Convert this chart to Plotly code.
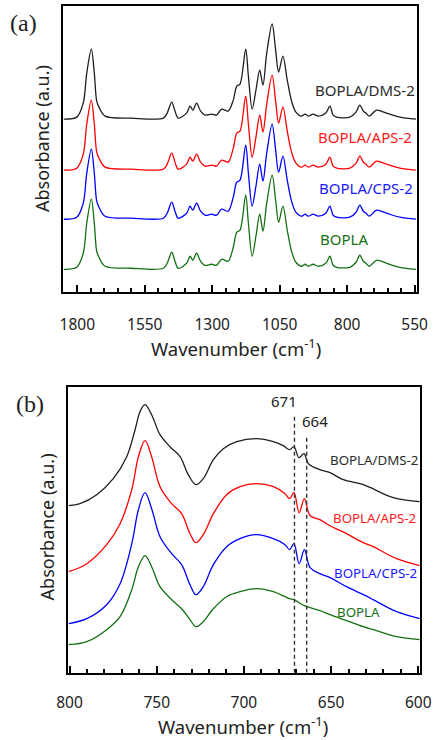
import plotly.graph_objects as go

# ---------------- Panel (a) data: full spectra (arbitrary, stacked) ----------------
wn_a = [1850, 1802, 1778, 1765, 1748, 1737, 1728, 1718, 1697, 1600, 1481, 1467, 1450, 1438, 1426,
        1395, 1382, 1372, 1358, 1343, 1327, 1302, 1284, 1265, 1241, 1222, 1209, 1197, 1176, 1166,
        1152, 1138, 1124, 1112, 1098, 1078, 1065, 1054, 1038, 1022, 1006, 990, 969, 956, 944,
        926, 907, 879, 864, 852, 839, 790, 767, 753, 740, 730, 718, 691, 654, 605, 545]

dms_a = [1.73, 1.75, 1.89, 2.19, 2.43, 2.19, 1.91, 1.84, 1.76, 1.74, 1.74, 1.79, 1.90, 1.81, 1.74,
         1.79, 1.86, 1.82, 1.89, 1.81, 1.77, 1.78, 1.77, 1.83, 1.81, 1.92, 2.06, 2.08, 2.43, 2.16,
         1.83, 2.02, 2.22, 2.07, 2.39, 2.68, 2.42, 2.20, 2.36, 2.12, 1.91, 1.80, 1.76, 1.78, 1.76,
         1.78, 1.76, 1.79, 1.86, 1.77, 1.75, 1.75, 1.80, 1.87, 1.81, 1.79, 1.76, 1.82, 1.79, 1.75, 1.73]

aps_a = [1.22, 1.24, 1.38, 1.68, 1.92, 1.68, 1.40, 1.33, 1.25, 1.23, 1.23, 1.28, 1.39, 1.30, 1.23,
         1.28, 1.35, 1.31, 1.38, 1.30, 1.26, 1.27, 1.26, 1.32, 1.30, 1.44, 1.59, 1.61, 1.96, 1.68,
         1.35, 1.55, 1.77, 1.60, 1.88, 2.17, 1.91, 1.69, 1.85, 1.61, 1.40, 1.29, 1.25, 1.27, 1.25,
         1.27, 1.25, 1.28, 1.35, 1.26, 1.24, 1.24, 1.29, 1.36, 1.30, 1.28, 1.25, 1.31, 1.28, 1.24, 1.22]

cps_a = [0.73, 0.75, 0.89, 1.19, 1.43, 1.19, 0.91, 0.84, 0.76, 0.74, 0.74, 0.79, 0.90, 0.81, 0.74,
         0.79, 0.86, 0.82, 0.89, 0.81, 0.77, 0.78, 0.77, 0.83, 0.81, 0.95, 1.10, 1.12, 1.47, 1.19,
         0.86, 1.06, 1.28, 1.11, 1.39, 1.68, 1.42, 1.20, 1.36, 1.12, 0.91, 0.80, 0.76, 0.78, 0.76,
         0.78, 0.76, 0.79, 0.86, 0.77, 0.75, 0.75, 0.80, 0.87, 0.81, 0.79, 0.76, 0.82, 0.79, 0.75, 0.73]

bopla_a = [0.23, 0.25, 0.39, 0.69, 0.93, 0.69, 0.41, 0.34, 0.26, 0.24, 0.24, 0.29, 0.40, 0.31, 0.24,
           0.29, 0.36, 0.32, 0.39, 0.31, 0.27, 0.28, 0.27, 0.33, 0.31, 0.45, 0.60, 0.62, 0.97, 0.69,
           0.36, 0.56, 0.78, 0.61, 0.89, 1.17, 0.92, 0.70, 0.86, 0.62, 0.41, 0.30, 0.26, 0.28, 0.26,
           0.28, 0.26, 0.29, 0.36, 0.27, 0.25, 0.25, 0.30, 0.37, 0.31, 0.29, 0.26, 0.32, 0.29, 0.25, 0.23]

# ---------------- Panel (b) data: 800-600 cm-1 region ----------------
wn_b_dms = [800.5, 794, 784.4, 774.9, 767.2, 762.4, 759.6, 756.7, 752.9, 748.1, 742.4, 736.6, 731.9,
            727.5, 723.3, 717.5, 711.8, 704.1, 692.7, 683.1, 677.4, 673.8, 671.3, 668.4, 665.5, 663.0,
            656.4, 650.6, 643.0, 631.5, 614.3, 599.2]
dms_b = [1.67, 1.69, 1.78, 1.94, 2.16, 2.43, 2.61, 2.68, 2.58, 2.38, 2.26, 2.16, 1.98,
         1.88, 1.94, 2.13, 2.24, 2.31, 2.34, 2.31, 2.27, 2.23, 2.26, 2.15, 2.19, 2.09,
         2.03, 2.00, 1.93, 1.88, 1.75, 1.71]

wn_b = [800.5, 790.1, 778.7, 771.0, 764.3, 760.5, 756.7, 752.9, 748.1, 741.4, 735.7, 730.9, 727.5,
        723.3, 717.5, 709.9, 702.2, 692.7, 683.1, 676.4, 673.8, 671.3, 668.3, 665.3, 662.0,
        656.4, 650.6, 641.1, 631.5, 625.8, 612.4, 599.2]
aps_b = [1.01, 1.09, 1.28, 1.49, 1.83, 2.16, 2.32, 2.16, 1.86, 1.69, 1.59, 1.39, 1.30,
         1.38, 1.59, 1.78, 1.86, 1.89, 1.86, 1.79, 1.74, 1.80, 1.60, 1.74, 1.57,
         1.53, 1.47, 1.39, 1.30, 1.26, 1.14, 1.07]
cps_b = [0.49, 0.54, 0.68, 0.89, 1.29, 1.63, 1.80, 1.64, 1.36, 1.19, 1.08, 0.88, 0.78,
         0.86, 1.08, 1.26, 1.34, 1.38, 1.34, 1.28, 1.23, 1.29, 1.09, 1.23, 1.05,
         0.99, 0.95, 0.86, 0.78, 0.73, 0.61, 0.54]
bopla_b = [0.28, 0.31, 0.43, 0.56, 0.83, 1.06, 1.17, 1.06, 0.86, 0.73, 0.64, 0.53, 0.46,
           0.51, 0.64, 0.76, 0.81, 0.84, 0.81, 0.76, 0.74, 0.73, 0.70, 0.67, 0.65,
           0.62, 0.58, 0.52, 0.46, 0.43, 0.36, 0.33]

marker_wn = [671, 664]
marker_top = [2.58, 2.38]
marker_labels = ["671", "664"]

series_names = ["BOPLA/DMS-2", "BOPLA/APS-2", "BOPLA/CPS-2", "BOPLA"]
series_colors = ["#1e1e1e", "#ff0000", "#0000ff", "#127012"]
label_colors = ["#2b2b2b", "#ff1a1a", "#1a1aff", "#157015"]

ticks_a = [1800, 1550, 1300, 1050, 800, 550]
ticks_b = [800, 750, 700, 650, 600]

W, H = 433, 740
def px(x):
    return x / W
def py(y):
    return 1 - y / H

FONT = "Noto Sans"

fig = go.Figure()

ys_a = [dms_a, aps_a, cps_a, bopla_a]
for name, ys, c in zip(series_names, ys_a, series_colors):
    fig.add_trace(go.Scatter(x=wn_a, y=ys, mode="lines", name=name,
                             line=dict(color=c, width=1.3, shape="spline", smoothing=0.9),
                             xaxis="x", yaxis="y", showlegend=False))

xs_b = [wn_b_dms, wn_b, wn_b, wn_b]
ys_b = [dms_b, aps_b, cps_b, bopla_b]
for name, xs, ys, c in zip(series_names, xs_b, ys_b, series_colors):
    fig.add_trace(go.Scatter(x=xs, y=ys, mode="lines", name=name,
                             line=dict(color=c, width=1.3, shape="spline", smoothing=1.0),
                             xaxis="x2", yaxis="y2", showlegend=False))

for w, top in zip(marker_wn, marker_top):
    fig.add_trace(go.Scatter(x=[w, w], y=[0, top], mode="lines",
                             line=dict(color="#333333", width=1.4, dash="4px,3px"),
                             xaxis="x2", yaxis="y2", showlegend=False, hoverinfo="skip"))

axis_common = dict(showline=True, linecolor="black", linewidth=2, mirror=True,
                   showgrid=False, zeroline=False)

fig.update_layout(
    width=W, height=H,
    margin=dict(l=0, r=0, t=0, b=0, pad=0, autoexpand=False),
    paper_bgcolor="white", plot_bgcolor="white",
    font=dict(family=FONT, color="#222222"),
    xaxis=dict(domain=[px(63), px(416.5)], anchor="y", range=[1853, 543],
               tickvals=ticks_a, ticks="inside", ticklen=7, tickwidth=1.5, tickcolor="black",
               minor=dict(dtick=50, tick0=1800, ticks="inside", ticklen=4, tickwidth=1.5, tickcolor="black"),
               tickfont=dict(size=15.5, family=FONT, color="#222222"), ticklabelstandoff=17,
               automargin=False, **axis_common),
    yaxis=dict(domain=[py(292.3), py(6)], anchor="x", range=[0, 2.86],
               showticklabels=False, ticks="", automargin=False, **axis_common),
    xaxis2=dict(domain=[px(68.3), px(420)], anchor="y2", range=[800.7, 599.0],
                tickvals=ticks_b, ticks="inside", ticklen=7, tickwidth=1.5, tickcolor="black",
                minor=dict(dtick=10, tick0=800, ticks="inside", ticklen=4, tickwidth=1.5, tickcolor="black"),
                tickfont=dict(size=15.5, family=FONT, color="#222222"), ticklabelstandoff=15,
                automargin=False, **axis_common),
    yaxis2=dict(domain=[py(672.7), py(386.7)], anchor="x2", range=[0, 2.86],
                showticklabels=False, ticks="", automargin=False, **axis_common),
)

ann = []
for name, c, (lx, ly) in zip(series_names, label_colors,
                             [(313, 90), (316, 136.7), (317, 187.7), (318, 239)]):
    ann.append(dict(text=name, x=px(lx), y=py(ly), xref="paper", yref="paper",
                    xanchor="left", yanchor="middle", showarrow=False,
                    font=dict(size=15, color=c, family=FONT)))
for name, c, (lx, ly) in zip(series_names, label_colors,
                             [(328, 460), (331, 517.7), (332, 573.3), (335, 611.7)]):
    ann.append(dict(text=name, x=px(lx), y=py(ly), xref="paper", yref="paper",
                    xanchor="left", yanchor="middle", showarrow=False,
                    font=dict(size=13.3, color=c, family=FONT)))
for t, (lx, ly) in zip(marker_labels, [(284, 400.7), (314.5, 421)]):
    ann.append(dict(text=t, x=px(lx), y=py(ly), xref="paper", yref="paper",
                    xanchor="center", yanchor="middle", showarrow=False,
                    font=dict(size=15, color="#222222", family=FONT)))
# x-axis titles (bottom-anchored so they stay inside the page)
for (cx, by) in [(236, 362), (243, 740)]:
    ann.append(dict(text="Wavenumber (cm<sup>-1</sup>)", x=px(cx), y=py(by), xref="paper", yref="paper",
                    xanchor="center", yanchor="bottom", showarrow=False, borderpad=0,
                    font=dict(size=18.5, color="#222222", family=FONT)))
for (cx, cy) in [(42, 139), (46.7, 526.7)]:
    ann.append(dict(text="Absorbance (a.u.)", x=px(cx), y=py(cy), xref="paper", yref="paper",
                    xanchor="center", yanchor="middle", showarrow=False, textangle=-90,
                    font=dict(size=18, color="#222222", family=FONT)))
for t, (cx, cy) in [("(a)", (23, 23)), ("(b)", (30, 404))]:
    ann.append(dict(text=t, x=px(cx), y=py(cy), xref="paper", yref="paper",
                    xanchor="center", yanchor="middle", showarrow=False,
                    font=dict(size=24, color="#222222", family="Liberation Serif")))
fig.update_layout(annotations=ann)

fig.write_html("out.html", config={"displayModeBar": False, "responsive": False},
               post_script="document.body.style.margin='0';document.body.style.overflow='hidden';")
